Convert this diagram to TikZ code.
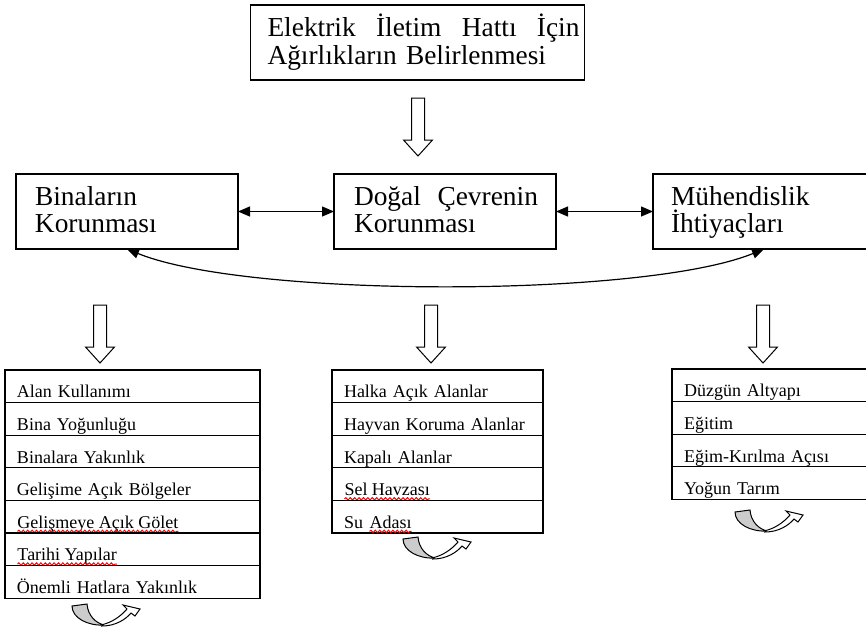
\documentclass[tikz,border=0pt]{standalone}
\usepackage{fontspec}
\setmainfont{Liberation Serif}
\usetikzlibrary{arrows.meta,decorations.pathmorphing}

\newcommand{\twoline}[3]{\hspace*{#1}\rule{0pt}{10pt}#2\\\hspace*{#1}#3\rule[-3pt]{0pt}{3pt}}
\newcommand{\sq}[1]{\tikz[baseline=(sqw.base)]{\node[inner sep=0pt, text width=, text height=, text depth=, anchor=base, draw=none] (sqw) {#1};
\draw[squiggle] ([yshift=-1.6pt]sqw.base west) -- ([yshift=-1.6pt]sqw.base east);}}

\tikzset{
  box/.style={draw, line width=0.6pt, outer sep=0pt, inner sep=0pt, text width=#1, minimum height=37.5pt, align=left, font=\fontsize{13.7}{13.5}\selectfont},
  row/.style={draw, line width=0.6pt, outer sep=0pt, inner xsep=6pt, inner ysep=0pt, text width=#1, text height=13.9pt, text depth=2.4pt, align=left, anchor=north west, font=\fontsize{9}{11}\selectfont},
  squiggle/.style={red, line width=0.5pt, decorate, decoration={snake, amplitude=0.6pt, segment length=2.2pt}},
  hollowarrow/.pic={\draw[line width=0.5pt] (-6.5,0) -- (6.5,0) -- (6.5,42) -- (14.5,42) -- (0,58) -- (-14.5,42) -- (-6.5,42) -- cycle;},
  turnarrow/.pic={
    \draw[line width=0.5pt, fill=gray!40] (0,2) -- (15,0) .. controls (16,12) and (24,19) .. (32,21) .. controls (16,22) and (0,14) .. (0,2) -- cycle;
    \draw[line width=0.5pt, fill=white] (30,22) .. controls (44,22) and (54,15) .. (59,9) -- (63,12) -- (68,5) -- (51,1) -- (55,5) .. controls (48,13) and (40,18) .. (31,20.5) -- cycle;}
}

\begin{document}
\begin{tikzpicture}[x=0.5pt, y=-0.5pt, >={Triangle[length=6pt,width=5pt]}]
\useasboundingbox (0,0) rectangle (866,627);
\clip (0,0) rectangle (866,627);

\node[box=167pt, font=\fontsize{13.7}{14}\selectfont] (goal) at (417.5,42.5)
  {\twoline{8.5pt}{\makebox[156pt][s]{Elektrik\hfill{} İletim\hfill{} Hattı\hfill{} İçin}}{Ağırlıkların Belirlenmesi}};
\pic at (418,98) {hollowarrow};

\node[box=111pt] (lb) at (127,211.5) {\twoline{9.5pt}{Binaların}{Korunması}};
\node[box=111pt] (cb) at (445,211.5) {\twoline{10pt}{\makebox[92pt][s]{Doğal\hfill{} Çevrenin}}{Korunması}};
\node[box=111pt] (rb) at (764,211.5) {\twoline{9pt}{Mühendislik}{İhtiyaçları}};
\draw[<->, line width=0.6pt] (lb) -- (cb);
\draw[<->, line width=0.6pt] (cb) -- (rb);
\draw[<->, line width=0.6pt] (lb.south) .. controls +(120,49) and +(-120,49) .. (rb.south);

\pic at (100,305) {hollowarrow};
\pic at (431,305) {hollowarrow};
\pic at (763,305) {hollowarrow};

\foreach \entry [count=\i] in {Alan Kullanımı, Bina Yoğunluğu, Binalara Yakınlık, Gelişime Açık Bölgeler, \sq{Gelişmeye Açık Gölet}, \sq{Tarihi Yapılar}, Önemli Hatlara Yakınlık}
  \node[row=115.5pt] (bin\i) at (5,{370+32.6*(\i-1)}) {\entry};
\foreach \entry [count=\i] in {Halka Açık Alanlar, Hayvan Koruma Alanlar, Kapalı Alanlar, \sq{Sel Havzası}, Su \sq{Adası}}
  \node[row=93.5pt] (cev\i) at (332,{370+32.6*(\i-1)}) {\entry};
\foreach \entry [count=\i] in {Düzgün Altyapı, Eğitim, Eğim-Kırılma Açısı, Yoğun Tarım}
  \node[row=98pt] (muh\i) at (672,{369+32.6*(\i-1)}) {\entry};

\pic at (72,604) {turnarrow};
\pic at (403,537) {turnarrow};
\pic at (735,510) {turnarrow};
\end{tikzpicture}
\end{document}
